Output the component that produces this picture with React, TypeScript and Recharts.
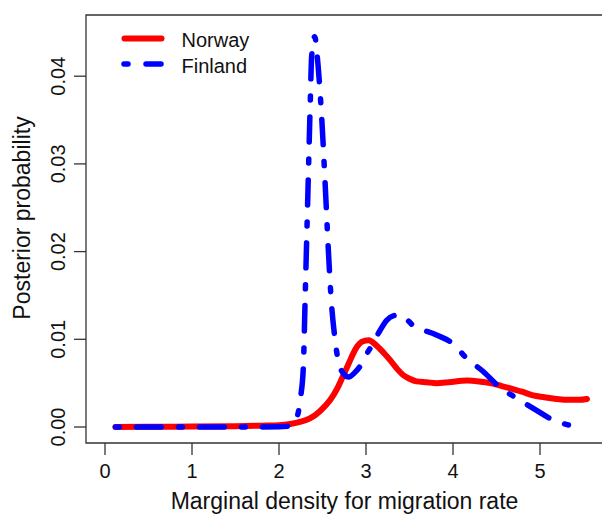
import React from "react";
import { LineChart, Line, XAxis, YAxis, ReferenceArea } from "recharts";

// ---- data ----
const norwayX = [0.12, 0.5, 1.0, 1.5, 1.8, 2.0, 2.13, 2.25, 2.36, 2.47, 2.59, 2.67, 2.74, 2.8, 2.854, 2.9, 2.95, 3.03, 3.12, 3.2, 3.28, 3.36, 3.43, 3.5, 3.58, 3.7, 3.81, 3.95, 4.16, 4.3, 4.43, 4.55, 4.66, 4.8, 4.92, 5.05, 5.19, 5.35, 5.45, 5.54];
const norwayY = [0.0, 0.00002, 0.00005, 0.0001, 0.00015, 0.0002, 0.00034, 0.0006, 0.001, 0.0018, 0.0031, 0.0044, 0.0059, 0.0072, 0.0084, 0.0092, 0.0097, 0.0099, 0.0093, 0.0085, 0.0076, 0.0066, 0.0059, 0.0055, 0.0052, 0.0051, 0.005, 0.0051, 0.0053, 0.0052, 0.005, 0.0047, 0.0044, 0.004, 0.0036, 0.0034, 0.0032, 0.0031, 0.0031, 0.0032];

const finlandX = [0.12, 0.5, 1.0, 1.5, 2.0, 2.12, 2.18, 2.22, 2.25, 2.28, 2.3, 2.32, 2.34, 2.36, 2.375, 2.41, 2.45, 2.49, 2.53, 2.567, 2.6, 2.64, 2.68, 2.74, 2.8, 2.87, 2.93, 3.0, 3.08, 3.16, 3.24, 3.32, 3.39, 3.54, 3.81, 4.0, 4.16, 4.35, 4.54, 4.73, 4.96, 5.15, 5.3, 5.38];
const finlandY = [0.0, 0.0, 0.0, 0.0, 0.00002, 0.0001, 0.0006, 0.0016, 0.0035, 0.0069, 0.0145, 0.0221, 0.0297, 0.0373, 0.0422, 0.0445, 0.0411, 0.0354, 0.0278, 0.0202, 0.0145, 0.0103, 0.0076, 0.0061, 0.0057, 0.0062, 0.0069, 0.0082, 0.0095, 0.011, 0.0122, 0.0127, 0.0128, 0.0116, 0.0105, 0.0095, 0.0078, 0.0063, 0.0045, 0.0033, 0.0019, 0.0008, 0.0003, 0.0001];

const xTicks = [0, 1, 2, 3, 4, 5];
const yTicks = [0, 0.01, 0.02, 0.03, 0.04];
const seriesNames = ["Norway", "Finland"];
const xTitle = "Marginal density for migration rate";
const yTitle = "Posterior probability";

const norwayData = norwayX.map((x, i) => ({ x, y: norwayY[i] }));
const finlandData = finlandX.map((x, i) => ({ x, y: finlandY[i] }));

const X_MIN = -0.2184;
const X_MAX = 5.724;
const Y_MIN = -0.001824;
const Y_MAX = 0.046978;

const FONT = "'Liberation Sans', Arial, Helvetica, sans-serif";
const AXIS = "#333";

const XTick = (props: any) => {
  const { x, payload } = props;
  return (
    <text x={x} y={478} textAnchor="middle" fontSize={20} fontFamily={FONT} fill="#111">
      {payload.value}
    </text>
  );
};

const YTick = (props: any) => {
  const { y, payload } = props;
  return (
    <text
      x={0}
      y={0}
      transform={`translate(65, ${y}) rotate(-90)`}
      textAnchor="middle"
      fontSize={20}
      fontFamily={FONT}
      fill="#111"
    >
      {Number(payload.value).toFixed(2)}
    </text>
  );
};

const XTitle = () => (
  <text x={344.5} y={509} textAnchor="middle" fontSize={23} fontFamily={FONT} fill="#111">
    {xTitle}
  </text>
);

const YTitle = () => (
  <text
    x={0}
    y={0}
    transform="translate(30, 218) rotate(-90)"
    textAnchor="middle"
    fontSize={23}
    fontFamily={FONT}
    fill="#111"
  >
    {yTitle}
  </text>
);

export default function App() {
  return (
    <div
      style={{
        position: "fixed",
        left: 0,
        top: 0,
        width: 602,
        height: 517,
        overflow: "hidden",
        background: "#fff",
      }}
    >
      <LineChart
        width={610}
        height={517}
        margin={{ top: 15, right: 7, left: 0, bottom: 0 }}
      >
        <XAxis
          type="number"
          dataKey="x"
          domain={[X_MIN, X_MAX]}
          ticks={xTicks}
          allowDataOverflow
          height={74}
          tickSize={12}
          axisLine={false}
          tickLine={{ stroke: AXIS, strokeWidth: 1.3 }}
          tick={<XTick />}
          label={<XTitle />}
        />
        <YAxis
          type="number"
          dataKey="y"
          domain={[Y_MIN, Y_MAX]}
          ticks={yTicks}
          allowDataOverflow
          width={86}
          tickSize={12}
          axisLine={false}
          tickLine={{ stroke: AXIS, strokeWidth: 1.3 }}
          tick={<YTick />}
          label={<YTitle />}
        />
        <ReferenceArea
          x1={X_MIN}
          x2={X_MAX}
          y1={Y_MIN}
          y2={Y_MAX}
          fill="none"
          fillOpacity={0}
          stroke={AXIS}
          strokeWidth={1.3}
          ifOverflow="visible"
        />
        <Line
          data={norwayData}
          dataKey="y"
          name={seriesNames[0]}
          type="monotone"
          stroke="#ff0000"
          strokeWidth={6}
          strokeLinecap="round"
          strokeLinejoin="round"
          dot={false}
          activeDot={false}
          isAnimationActive={false}
        />
        <Line
          data={finlandData}
          dataKey="y"
          name={seriesNames[1]}
          type="monotone"
          stroke="#0000ff"
          strokeWidth={5.5}
          strokeDasharray="4 17 25 17"
          strokeLinecap="round"
          strokeLinejoin="round"
          dot={false}
          activeDot={false}
          isAnimationActive={false}
        />
      </LineChart>
      <svg
        width={320}
        height={100}
        style={{ position: "absolute", left: 0, top: 0 }}
      >
        <line x1={124.5} y1={38.5} x2={161.5} y2={38.5} stroke="#ff0000" strokeWidth={6} strokeLinecap="round" />
        <line
          x1={124}
          y1={64}
          x2={161}
          y2={64}
          stroke="#0000ff"
          strokeWidth={5.5}
          strokeLinecap="round"
          strokeDasharray="4 18 15 100"
        />
        <text x={181.5} y={47} fontSize={20} fontFamily={FONT} fill="#111">
          {seriesNames[0]}
        </text>
        <text x={181.5} y={73} fontSize={20} fontFamily={FONT} fill="#111">
          {seriesNames[1]}
        </text>
      </svg>
    </div>
  );
}
